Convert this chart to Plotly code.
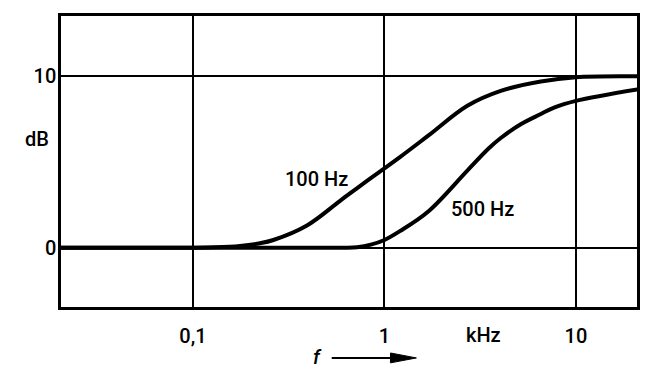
import plotly.graph_objects as go

# 100 Hz curve (f in kHz, level in dB)
f_100 = [0.02, 0.1, 0.13, 0.176, 0.224, 0.263, 0.394, 0.589, 0.845, 1.0, 1.21, 1.70, 2.71, 4.05, 6.56, 10, 21.5]
db_100 = [0, 0, 0.02, 0.1, 0.26, 0.45, 1.3, 2.75, 4.05, 4.63, 5.3, 6.55, 8.28, 9.15, 9.7, 9.95, 10.0]
# 500 Hz curve
f_500 = [0.02, 0.1, 0.5, 0.62, 0.72, 0.85, 1.0, 1.21, 1.70, 2.71, 3.51, 4.05, 5.15, 6.56, 7.69, 10, 21.5]
db_500 = [0, 0, 0, 0, 0.03, 0.18, 0.45, 0.98, 2.13, 4.5, 5.8, 6.4, 7.2, 7.8, 8.18, 8.57, 9.26]

x_tickvals = [0.1, 1, 10]
x_ticktext = ["0,1", "1", "10"]
y_tickvals = [0, 10]
y_ticktext = ["0", "10"]

FONT = "Roboto"
FS = 20
fig = go.Figure()
for fx, dy in [(f_100, db_100), (f_500, db_500)]:
    fig.add_trace(go.Scatter(x=fx, y=dy, mode="lines",
                             line=dict(color="black", width=4, shape="spline", smoothing=1.0),
                             showlegend=False, hoverinfo="skip"))

fig.update_layout(
    width=643, height=360,
    margin=dict(l=53, r=14, t=5, b=61),
    paper_bgcolor="white", plot_bgcolor="white",
    font=dict(family=FONT, size=FS, color="black", weight=500),
    xaxis=dict(type="log", range=[-1.689, 1.319], tickvals=x_tickvals, ticktext=x_ticktext,
               showgrid=True, gridcolor="black", gridwidth=1.5, ticks="",
               showline=True, linecolor="black", linewidth=2.5, mirror=True,
               zeroline=False, ticklabelstandoff=9),
    yaxis=dict(range=[-3.46, 13.52], tickvals=y_tickvals, ticktext=y_ticktext,
               showgrid=True, gridcolor="black", gridwidth=1.5, ticks="",
               showline=True, linecolor="black", linewidth=2.5, mirror=True,
               zeroline=False, ticklabelstandoff=-2),
)

def ann(x, y, text):
    fig.add_annotation(x=x, y=y, xref="paper", yref="paper", text=text,
                       xanchor="center", yanchor="middle",
                       showarrow=False, font=dict(size=FS, family=FONT, weight=500))

ann(0.443, 0.439, "100 Hz")
ann(0.732, 0.337, "500 Hz")
ann(-0.042, 0.578, "dB")
ann(0.733, -0.095, "kHz")
ann(0.446, -0.173, "<i>f</i>")

# arrow after f
fig.add_shape(type="line", xref="paper", yref="paper", x0=0.47, x1=0.59, y0=-0.175, y1=-0.175,
              line=dict(color="black", width=2))
fig.add_shape(type="path", xref="paper", yref="paper",
              path="M 0.572 -0.158 L 0.617 -0.175 L 0.572 -0.192 Z",
              fillcolor="black", line=dict(color="black", width=1))

fig.write_html("out.html")
